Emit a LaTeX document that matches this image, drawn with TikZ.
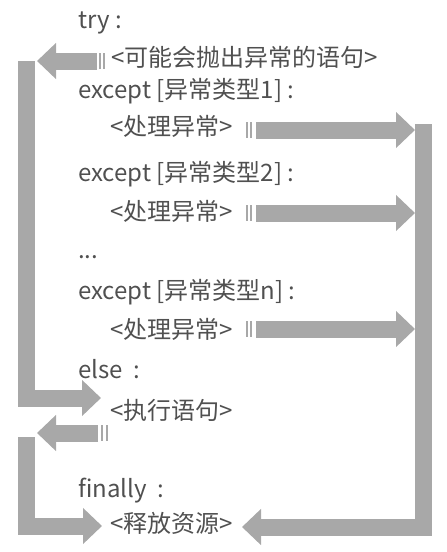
\documentclass[tikz,border=0pt]{standalone}
\usepackage{fontspec}
\setmainfont{Noto Sans CJK SC}
\usepackage{xcolor}
\usetikzlibrary{arrows.meta}
\definecolor{codegray}{HTML}{505050}
\definecolor{flowgray}{HTML}{A8A8A8}

\begin{document}
\begin{tikzpicture}[
  x=1pt, y=-1pt,
  code/.style={
    anchor=base west, inner sep=0pt,
    font=\fontsize{24}{28}\selectfont, text=codegray
  },
  flow/.style={draw=flowgray, line width=17pt, -{Triangle[length=19pt,width=35pt]}},
  tick/.style={draw=flowgray, line width=2pt}
]
\useasboundingbox (0,0) rectangle (447,552);

% Code lines
\node[code] (try)   at (78,28)   {try :};
\node[code] (stmt)  at (111,66)  {<可能会抛出异常的语句>};
\node[code] (exc1)  at (78,98)   {except [异常类型1] :};
\node[code] (hdl1)  at (110,135) {<处理异常>};
\node[code] (exc2)  at (78,181)  {except [异常类型2] :};
\node[code] (hdl2)  at (110,220) {<处理异常>};
\node[code] (dots)  at (78,258)  {...};
\node[code] (excn)  at (78,299)  {except [异常类型n] :};
\node[code] (hdln)  at (110,338) {<处理异常>};
\node[code] (else)  at (78,378)  {else\ \ :};
\node[code] (run)   at (110,419) {<执行语句>};
\node[code] (fin)   at (78,497)  {finally\ \ :};
\node[code] (rel)   at (110,532) {<释放资源>};

% Free ends of the flows
\coordinate (raise) at (97,61);
\coordinate (raiseTip) at (37,61);
\coordinate (leftTop) at (26,61);
\coordinate (leftCorner) at (26,398);
\coordinate (runTip) at (101,398);
\coordinate (out1) at (256,130);
\coordinate (out2) at (256,213);
\coordinate (outn) at (256,329);
\coordinate (in1) at (415,130);
\coordinate (in2) at (415,213);
\coordinate (inn) at (415,329);
\coordinate (rightTop) at (423,124);
\coordinate (rightCorner) at (423,527);
\coordinate (relTipR) at (242,527);
\coordinate (done) at (98,433);
\coordinate (doneTip) at (37,433);
\coordinate (leftTop2) at (26,437);
\coordinate (leftCorner2) at (26,526);
\coordinate (relTipL) at (102,526);

% try -> else
\draw[tick] (100,53) -- (100,69);
\draw[tick] (103.5,53) -- (103.5,69);
\draw[flow] (raise) -- (raiseTip);
\draw[flow] (leftTop) -- (leftCorner) -- (runTip);

% except -> finally
\draw[tick] (246.5,122) -- (246.5,138);
\draw[tick] (251,122) -- (251,138);
\draw[flow] (out1) -- (in1);
\draw[tick] (246.5,205) -- (246.5,221);
\draw[tick] (251,205) -- (251,221);
\draw[flow] (out2) -- (in2);
\draw[tick] (246.5,321) -- (246.5,337);
\draw[tick] (251,321) -- (251,337);
\draw[flow] (outn) -- (inn);
\draw[flow] (rightTop) -- (rightCorner) -- (relTipR);

% else -> finally
\draw[tick] (102,425) -- (102,441);
\draw[tick] (107,425) -- (107,441);
\draw[flow] (done) -- (doneTip);
\draw[flow] (leftTop2) -- (leftCorner2) -- (relTipL);

\end{tikzpicture}
\end{document}
